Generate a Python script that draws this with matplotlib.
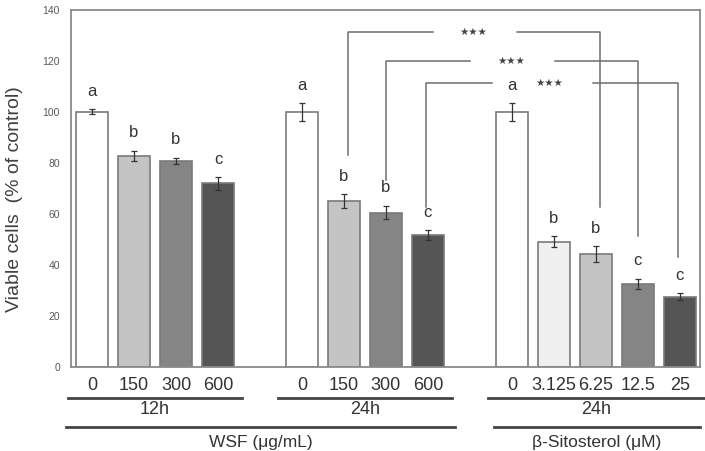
"""Cell viability bar chart: WSF vs beta-sitosterol."""
import matplotlib
matplotlib.use("Agg")
import matplotlib.pyplot as plt
from matplotlib.transforms import blended_transform_factory

plt.rcParams["font.family"] = ["Liberation Sans", "DejaVu Sans"]

# data
wsf12_doses = ["0", "150", "300", "600"]
wsf12_mean = [100, 82.8, 80.8, 72.0]
wsf12_err = [1.0, 2.0, 1.3, 2.5]
wsf12_letters = ["a", "b", "b", "c"]

wsf24_doses = ["0", "150", "300", "600"]
wsf24_mean = [100, 65.0, 60.5, 51.7]
wsf24_err = [3.5, 2.6, 2.7, 2.0]
wsf24_letters = ["a", "b", "b", "c"]

sito_doses = ["0", "3.125", "6.25", "12.5", "25"]
sito_mean = [100, 49.1, 44.2, 32.5, 27.5]
sito_err = [3.5, 2.2, 3.0, 2.0, 1.3]
sito_letters = ["a", "b", "b", "c", "c"]

# WSF 24h dose vs beta-sitosterol dose compared, all p < 0.001
comparisons = [("150", "6.25"), ("300", "12.5"), ("600", "25")]
comparison_labels = ["★★★", "★★★", "★★★"]

WHITE, PALE, LIGHT, MID, DARK = "#ffffff", "#f0f0f0", "#c4c4c4", "#858585", "#555555"
wsf_colors = [WHITE, LIGHT, MID, DARK]
sito_colors = [WHITE, PALE, LIGHT, MID, DARK]


def main() -> None:
    fig = plt.figure(figsize=(7.05, 4.51), dpi=100)
    ax = fig.add_axes([71 / 705, 84.3 / 451, 629 / 705, 356.7 / 451])

    groups = [
        (0, wsf12_doses, wsf12_mean, wsf12_err, wsf12_letters, wsf_colors, "12h"),
        (5, wsf24_doses, wsf24_mean, wsf24_err, wsf24_letters, wsf_colors, "24h"),
        (10, sito_doses, sito_mean, sito_err, sito_letters, sito_colors, "24h"),
    ]
    ticks, ticklabels = [], []
    for start, doses, mean, err, letters, colors, _ in groups:
        xs = [start + i for i in range(len(doses))]
        ax.bar(xs, mean, width=0.77, color=colors, edgecolor="#7a7a7a", linewidth=1.2, zorder=2)
        ax.errorbar(xs, mean, yerr=err, fmt="none", ecolor="#333333", elinewidth=0.9,
                    capsize=2.5, capthick=0.9, zorder=3)
        for x, m, e, lab in zip(xs, mean, err, letters):
            ax.text(x, m + e + 7, lab, ha="center", va="center", fontsize=12, color="#333333")
        ticks += xs
        ticklabels += doses

    wsf24_x = {d: 5 + i for i, d in enumerate(wsf24_doses)}
    sito_x = {d: 10 + i for i, d in enumerate(sito_doses)}

    ax.set_xlim(-0.5, 14.48)
    ax.set_ylim(0, 140)
    ax.set_yticks(range(0, 141, 20))
    ax.tick_params(axis="y", length=0, labelsize=7.5, labelcolor="#595959", pad=8)
    ax.set_xticks([])
    for sp in ax.spines.values():
        sp.set_color("#8a8a8a")
        sp.set_linewidth(1.3)
    fig.text(15 / 705, 1 - 199 / 451, "Viable cells  (% of control)", rotation=90,
             ha="center", va="center", fontsize=14, color="#404040")

    # significance brackets
    bracket_y = [131.4, 120.0, 111.3]
    star_x = [9.07, 9.98, 10.88]
    gaps = [(8.12, 10.12), (9.0, 11.02), (9.52, 11.93)]
    bottoms = [(83, 62.7), (73.3, 51.3), (62.8, 43.0)]
    offs = [0.1, 0.0, -0.05]
    lc = "#6e6e6e"
    for (dl, dr), lab, y, sx, (g0, g1), (bl, br), o in zip(
            comparisons, comparison_labels, bracket_y, star_x, gaps, bottoms, offs):
        xl, xr = wsf24_x[dl] + o, sito_x[dr] + o
        ax.plot([xl, xl, g0], [bl, y, y], color=lc, lw=1.1, zorder=1)
        ax.plot([g1, xr, xr], [y, y, br], color=lc, lw=1.1, zorder=1)
        ax.text(sx, y, lab, ha="center", va="center", fontsize=7.5, color="#444444",
                family="DejaVu Sans")

    # category labels beneath the axis
    tr = blended_transform_factory(ax.transData, fig.transFigure)
    fy = lambda py: 1 - py / 451
    for x, lab in zip(ticks, ticklabels):
        ax.text(x, fy(385), lab, transform=tr, ha="center", va="center", fontsize=13,
                color="#333333", clip_on=False)
    for start, doses, *_, time_lab in groups:
        x0, x1 = start - 0.58, start + len(doses) - 1 + 0.58
        ax.plot([x0, x1], [fy(397.7), fy(397.7)], transform=tr, color="#444444", lw=2,
                clip_on=False)
        ax.text((x0 + x1) / 2, fy(410), time_lab, transform=tr, ha="center", va="center",
                fontsize=13, color="#333333", clip_on=False)
    for x0, x1, lab in [(-0.62, 8.64, "WSF (μg/mL)"), (9.57, 14.48, "β-Sitosterol (μM)")]:
        ax.plot([x0, x1], [fy(426.7), fy(426.7)], transform=tr, color="#444444", lw=2,
                clip_on=False)
        ax.text((x0 + x1) / 2, fy(450), lab, transform=tr, ha="center", va="bottom",
                fontsize=12.5, color="#333333", clip_on=False)

    fig.savefig("out.png", dpi=100)
    plt.close(fig)


if __name__ == "__main__":
    main()
